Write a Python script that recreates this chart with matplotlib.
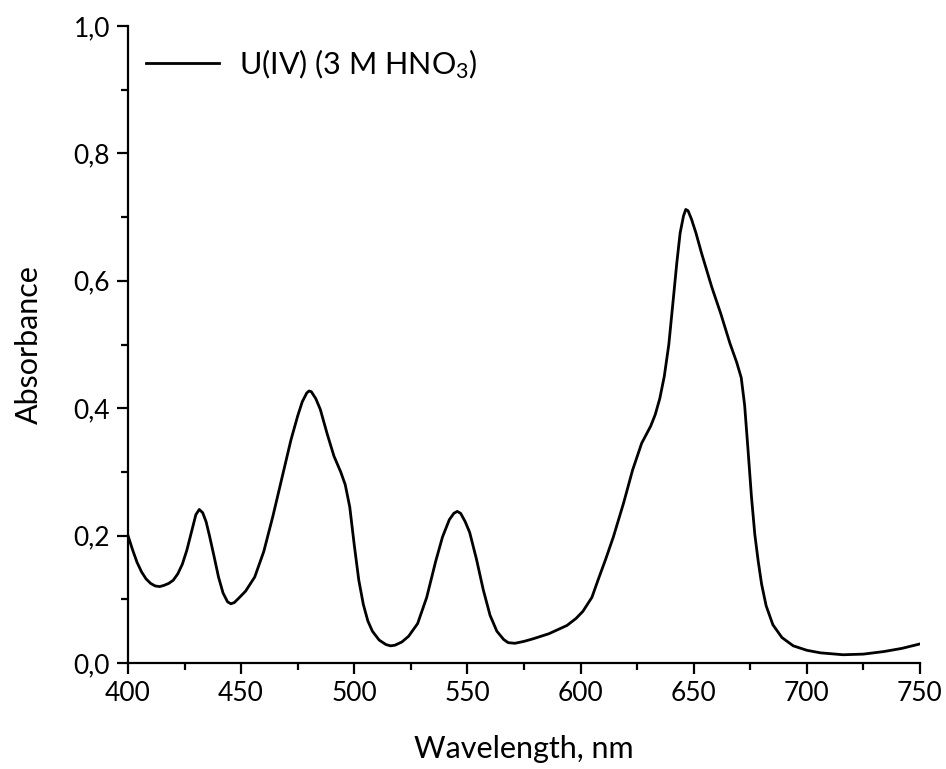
import matplotlib
matplotlib.use("Agg")
import matplotlib.pyplot as plt
from matplotlib.ticker import MultipleLocator, FuncFormatter

# U(IV) in 3 M HNO3
wavelength = [400, 402, 404, 406, 408, 410, 412, 414, 416, 418, 420, 422, 424, 426, 428, 430,
              431.5, 433, 434.5, 436, 438, 440, 442, 444, 445.5, 447, 449, 452, 456, 460,
              464, 468, 472, 475, 477, 479, 480, 481, 483, 485, 488, 491, 494, 496, 498,
              500, 502, 504, 506, 508, 511, 514, 516, 518, 521, 524, 528, 532, 536, 539,
              542, 544, 545.5, 547, 549, 551, 554, 557, 560, 563, 566, 568, 571, 575, 579,
              586, 594, 598, 601, 605, 608, 611, 614.5, 619, 623, 627, 631, 633, 635, 637,
              639, 641, 642.5, 644, 645.5, 646.5, 647.5, 649, 651, 653.5, 658, 662, 666,
              669, 671, 672.5, 674, 675.5, 677, 678.5, 680, 682, 685, 689, 694, 700, 706,
              716, 725, 734, 742, 750]
absorbance = [0.200, 0.178, 0.158, 0.143, 0.132, 0.125, 0.121, 0.120, 0.122, 0.125, 0.130,
              0.140, 0.155, 0.177, 0.205, 0.233, 0.241, 0.236, 0.222, 0.200, 0.168, 0.135,
              0.110, 0.096, 0.093, 0.095, 0.102, 0.113, 0.135, 0.175, 0.230, 0.290, 0.350,
              0.388, 0.410, 0.424, 0.427, 0.426, 0.415, 0.398, 0.360, 0.325, 0.300, 0.280,
              0.245, 0.185, 0.130, 0.092, 0.066, 0.050, 0.036, 0.029, 0.027, 0.028, 0.033,
              0.042, 0.062, 0.103, 0.160, 0.198, 0.225, 0.235, 0.238, 0.235, 0.222, 0.205,
              0.163, 0.115, 0.075, 0.050, 0.037, 0.032, 0.031, 0.034, 0.038, 0.046, 0.059,
              0.070, 0.081, 0.103, 0.133, 0.162, 0.198, 0.251, 0.303, 0.345, 0.372, 0.390,
              0.415, 0.450, 0.500, 0.572, 0.627, 0.675, 0.702, 0.712, 0.710, 0.697, 0.675,
              0.643, 0.590, 0.548, 0.502, 0.472, 0.448, 0.405, 0.335, 0.262, 0.202, 0.160,
              0.124, 0.090, 0.060, 0.040, 0.027, 0.020, 0.016, 0.013, 0.014, 0.018, 0.023,
              0.030]

plt.rcParams["font.family"] = ["Lato", "DejaVu Sans"]
plt.rcParams["mathtext.default"] = "regular"

fig = plt.figure(figsize=(9.46, 7.69), dpi=100)
ax = fig.add_axes([0.1353, 0.1378, 0.8372, 0.8284])

ax.plot(wavelength, absorbance, color="black", lw=2.0, label="U(IV) (3 M HNO$_3$)",
        solid_joinstyle="round")

ax.set_xlim(400, 750)
ax.set_ylim(0, 1.0)
ax.xaxis.set_major_locator(MultipleLocator(50))
ax.xaxis.set_minor_locator(MultipleLocator(25))
ax.yaxis.set_major_locator(MultipleLocator(0.2))
ax.yaxis.set_minor_locator(MultipleLocator(0.1))
ax.yaxis.set_major_formatter(FuncFormatter(lambda v, p: f"{v:.1f}".replace(".", ",")))

for s in ["top", "right"]:
    ax.spines[s].set_visible(False)
for s in ["left", "bottom"]:
    ax.spines[s].set_linewidth(1.6)
ax.tick_params(which="major", direction="out", length=8, width=1.6, labelsize=19, pad=5)
ax.tick_params(which="minor", direction="out", length=5, width=1.6)

ax.set_xlabel("Wavelength, nm", fontsize=22, labelpad=21)
ax.set_ylabel("Absorbance", fontsize=22, labelpad=22)

ax.legend(loc="upper left", bbox_to_anchor=(-0.012, 1.01), frameon=False, fontsize=22,
          handlelength=2.4, handletextpad=0.65)

fig.savefig("out.png", dpi=100)
